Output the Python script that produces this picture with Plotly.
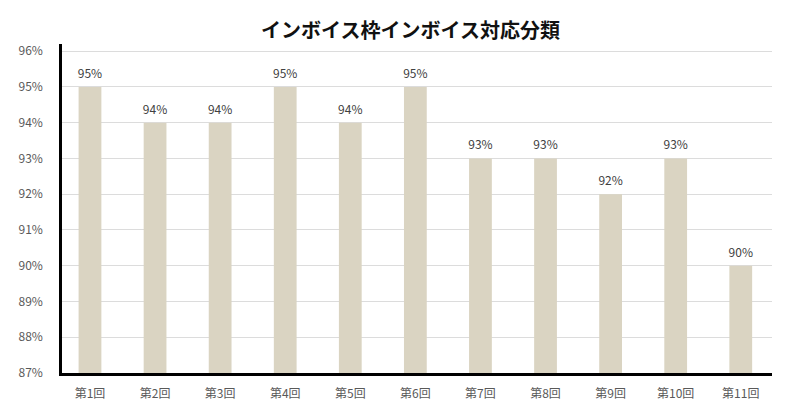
import plotly.graph_objects as go

categories = ["第1回", "第2回", "第3回", "第4回", "第5回", "第6回", "第7回", "第8回", "第9回", "第10回", "第11回"]
values = [95, 94, 94, 95, 94, 95, 93, 93, 92, 93, 90]
tick_vals = [87, 88, 89, 90, 91, 92, 93, 94, 95, 96]
tick_text = [f"{v}%" for v in tick_vals]
bar_labels = [f"{v}%" for v in values]

base = 87
label_gap = 0.17  # vertical gap between bar top and its label, in axis units

fig = go.Figure()
fig.add_trace(go.Bar(
    x=categories,
    y=[v - base for v in values],
    base=base,
    marker=dict(color="#DAD4C2", line=dict(width=0)),
    width=0.35,
))
fig.add_trace(go.Scatter(
    x=categories,
    y=[v + label_gap for v in values],
    mode="text",
    text=bar_labels,
    textposition="top center",
    textfont=dict(size=12, color="#404040", family="Noto Sans CJK JP"),
    cliponaxis=False,
    hoverinfo="skip",
))

fig.update_layout(
    width=794, height=417,
    margin=dict(l=62, r=22, t=44, b=44),
    paper_bgcolor="white", plot_bgcolor="white",
    title=dict(text="<b>インボイス枠インボイス対応分類</b>", x=0.517, xanchor="center", y=0.925, yanchor="middle",
               font=dict(size=20, color="#111111", family="Noto Sans CJK JP")),
    showlegend=False,
    font=dict(family="Noto Sans CJK JP", color="#595959", size=12),
)
fig.update_xaxes(range=[-0.43, 10.48], showline=True, linecolor="black", linewidth=2.5, ticks="",
                 showgrid=False, ticklabelstandoff=8, tickfont=dict(size=12, color="#595959"))
fig.update_yaxes(range=[87, 96.2], tickvals=tick_vals, ticktext=tick_text, showline=True,
                 linecolor="black", linewidth=2.5, showgrid=True, gridcolor="#DCDCDC", gridwidth=1,
                 ticks="", ticklabelstandoff=14, tickfont=dict(size=12, color="#595959"), zeroline=False)

fig.write_html("out.html")
